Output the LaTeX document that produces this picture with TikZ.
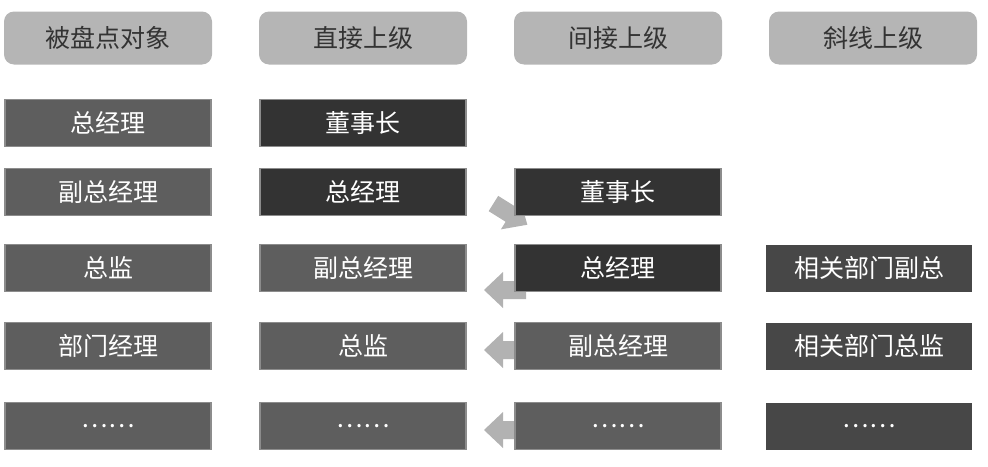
\documentclass[tikz,border=0pt]{standalone}
\usepackage{fontspec}
\newfontfamily\cjk{Noto Sans CJK SC}
\begin{document}
\begin{tikzpicture}[x=0.5pt,y=-0.5pt,
  hdr/.style={fill=black!29,rounded corners=5pt,minimum width=104pt,minimum height=26.5pt,text=black!80,font=\cjk\fontsize{12.5}{14}\selectfont,inner sep=0pt},
  box/.style={minimum width=103pt,minimum height=23.5pt,inner sep=0pt,text=white,font=\cjk\fontsize{12.5}{14}\selectfont,draw=black!45,line width=0.8pt},
  mid/.style={box,fill=black!63},
  dark/.style={box,fill=black!80},
  side/.style={box,fill=black!72,draw=none},
  arr/.style={fill=black!30}]
\useasboundingbox (0,0) rectangle (988,466);
% arrows (behind boxes)
\foreach \y in {290,350,430}{
  \fill[arr] (526,\y-9) -- (503,\y-9) -- (503,\y-18) -- (484,\y) -- (503,\y+18) -- (503,\y+9) -- (526,\y+9) -- cycle;}
\begin{scope}[shift={(507,212)},rotate=-32]
  \fill[arr] (-16,-9) -- (4,-9) -- (4,-18) -- (24,0) -- (4,18) -- (4,9) -- (-16,9) -- cycle;
\end{scope}
% headers
\node[hdr] (h1) at (108,38) {被盘点对象};
\node[hdr] (h2) at (363,38) {直接上级};
\node[hdr] (h3) at (618,38) {间接上级};
\node[hdr] (h4) at (873,38) {斜线上级};
% column 1
\node[mid] (a1) at (108,123) {总经理};
\node[mid] (a2) at (108,192) {副总经理};
\node[mid] (a3) at (108,268) {总监};
\node[mid] (a4) at (108,346) {部门经理};
\node[mid] (a5) at (108,426) {……};
% column 2
\node[dark] (b1) at (363,123) {董事长};
\node[dark] (b2) at (363,192) {总经理};
\node[mid] (b3) at (363,268) {副总经理};
\node[mid] (b4) at (363,346) {总监};
\node[mid] (b5) at (363,426) {……};
% column 3
\node[dark] (c2) at (618,192) {董事长};
\node[dark] (c3) at (618,268) {总经理};
\node[mid] (c4) at (618,346) {副总经理};
\node[mid] (c5) at (618,426) {……};
% column 4
\node[side] (d3) at (869,268) {相关部门副总};
\node[side] (d4) at (869,346) {相关部门总监};
\node[side] (d5) at (869,426) {……};
\end{tikzpicture}
\end{document}
